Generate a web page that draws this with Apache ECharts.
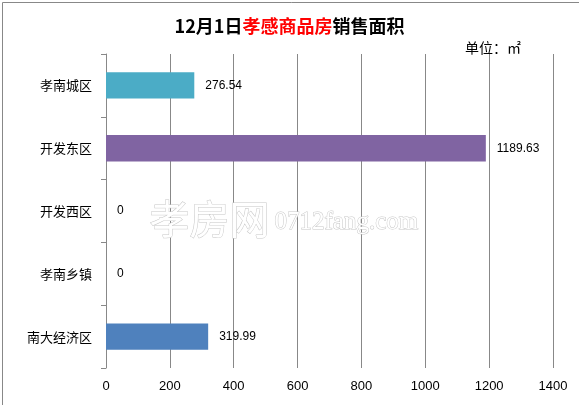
<!DOCTYPE html>
<html>
<head>
<meta charset="utf-8">
<script src="https://cdn.jsdelivr.net/npm/echarts@6/dist/echarts.min.js"></script>
<style>
html, body { margin: 0; padding: 0; background: #fff; }
#chart { width: 579px; height: 405px; }
</style>
</head>
<body>
<div id="chart"></div>
<script>
var categories = ['孝南城区', '开发东区', '开发西区', '孝南乡镇', '南大经济区'];
var areaValues = [276.54, 1189.63, 0, 0, 319.99];
var barColors = ['#4BACC6', '#8064A2', '#4F81BD', '#4F81BD', '#4F81BD'];
var xTicks = [0, 1400, 200];

var chart = echarts.init(document.getElementById('chart'));
var option = {
    backgroundColor: '#fff',
    textStyle: { fontFamily: 'Noto Sans CJK SC' },
    title: {
        text: '{b|12月1日}{r|孝感商品房}{b|销售面积}',
        left: 'center',
        top: 12,
        textStyle: {
            rich: {
                b: { fontSize: 18, fontWeight: 'bold', color: '#000', fontFamily: 'Noto Sans CJK SC' },
                r: { fontSize: 18, fontWeight: 'bold', color: '#ff0000', fontFamily: 'Noto Sans CJK SC' }
            }
        }
    },
    graphic: [
        { type: 'rect', left: 0, top: 0, shape: { width: 578, height: 404 },
          style: { fill: 'none', stroke: '#888', lineWidth: 1 }, silent: true },
        { type: 'text', left: 465, top: 41, style: { text: '单位：㎡', fontSize: 14, fill: '#000', fontFamily: 'Noto Sans CJK SC' } },
        { type: 'text', left: 149, top: 198, z: 10, style: { text: '孝房网', fontSize: 40, fill: '#fff', stroke: '#c8c8c8', lineWidth: 1, fontFamily: 'Noto Sans CJK SC' } },
        { type: 'text', left: 274, top: 209, z: 10, style: { text: '0712fang.com', fontSize: 25, fill: '#fff', stroke: '#c8c8c8', lineWidth: 1, fontFamily: 'Liberation Serif' } }
    ],
    grid: { left: 106, right: 26, top: 54, bottom: 37 },
    xAxis: {
        type: 'value',
        min: xTicks[0],
        max: xTicks[1],
        interval: xTicks[2],
        axisLine: { show: false },
        axisTick: { show: false },
        axisLabel: { color: '#000', fontSize: 13, margin: 12, fontFamily: 'Liberation Sans',
                     formatter: function (v) { return String(v); } },
        splitLine: { show: true, lineStyle: { color: '#888', width: 1 } }
    },
    yAxis: {
        type: 'category',
        data: categories,
        inverse: true,
        axisLine: { show: true, lineStyle: { color: '#888' } },
        axisTick: { show: true, length: 5, lineStyle: { color: '#888' } },
        axisLabel: { color: '#000', fontSize: 13, margin: 14 }
    },
    series: [{
        type: 'bar',
        data: areaValues.map(function (v, i) {
            return { value: v, itemStyle: { color: barColors[i] } };
        }),
        barCategoryGap: '58%',
        label: {
            show: true,
            position: 'right',
            distance: 11,
            color: '#000',
            fontSize: 12,
            fontFamily: 'Liberation Sans'
        }
    }]
};
chart.setOption(option);
</script>
</body>
</html>
